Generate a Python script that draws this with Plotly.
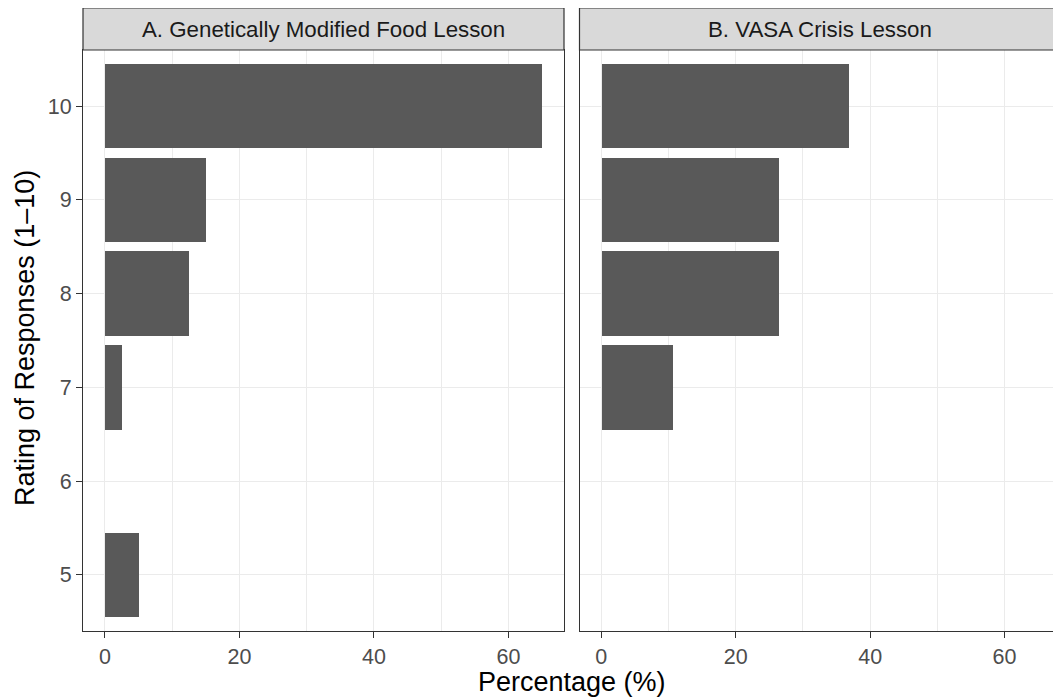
import plotly.graph_objects as go

ratings = [10, 9, 8, 7, 6, 5]
gm_food_pct = [65.0, 15.0, 12.5, 2.5, 0.0, 5.0]
vasa_pct = [36.84, 26.32, 26.32, 10.53, 0.0, 0.0]
panel_titles = ["A. Genetically Modified Food Lesson", "B. VASA Crisis Lesson"]
x_ticks = [0, 20, 40, 60]
x_title = "Percentage (%)"
y_title = "Rating of Responses (1\u201310)"

OFF = 8  # page body margin
W, H = 1061 - OFF, 699 - OFF
FONT = "Liberation Sans, Arial, Helvetica, sans-serif"
BAR = "#595959"
DARK = "#333333"
GRID = "#EBEBEB"
TICKC = "#4D4D4D"

def px_x(v):
    return (v - OFF) / W

def px_y(v):
    return (H - (v - OFF)) / H

dom1 = [px_x(83), px_x(564)]
dom2 = [px_x(579.5), px_x(1060)]
ydom = [px_y(631), px_y(50)]

fig = go.Figure()
for i, vals in enumerate([gm_food_pct, vasa_pct]):
    fig.add_trace(go.Bar(
        x=vals, y=ratings, orientation="h", width=0.9,
        marker=dict(color=BAR, line=dict(width=0)),
        xaxis="x" if i == 0 else "x2", yaxis="y" if i == 0 else "y2",
        showlegend=False, hoverinfo="x+y"))

xcommon = dict(range=[-3.25, 68.25], tickvals=x_ticks, ticktext=[str(t) for t in x_ticks],
               showgrid=True, gridcolor=GRID, gridwidth=1.4,
               minor=dict(dtick=10, tick0=0, showgrid=True, gridcolor=GRID, gridwidth=0.8, ticks=""),
               zeroline=False, showline=True, mirror=True, linecolor=DARK, linewidth=1.2,
               ticks="outside", ticklen=6, tickwidth=1.2, tickcolor=DARK,
               tickfont=dict(family=FONT, size=21.5, color=TICKC), fixedrange=True)
ycommon = dict(range=[4.4, 10.6], tickvals=ratings, showgrid=True, gridcolor=GRID, gridwidth=1.4,
               zeroline=False, showline=True, mirror=True, linecolor=DARK, linewidth=1.2,
               tickfont=dict(family=FONT, size=21.5, color=TICKC), fixedrange=True, domain=ydom)

fig.update_layout(
    width=W, height=H, margin=dict(l=0, r=0, t=0, b=0),
    paper_bgcolor="white", plot_bgcolor="white", bargap=0,
    xaxis=dict(domain=dom1, anchor="y", **xcommon),
    xaxis2=dict(domain=dom2, anchor="y2", **xcommon),
    yaxis=dict(anchor="x", ticks="outside", ticklen=6, tickwidth=1.2, tickcolor=DARK, **ycommon),
    yaxis2=dict(anchor="x2", ticks="", showticklabels=False, **ycommon),
)

strip_y0, strip_y1 = px_y(50), px_y(8)
for dom, title in zip([dom1, dom2], panel_titles):
    fig.add_shape(type="rect", xref="paper", yref="paper", x0=dom[0], x1=dom[1],
                  y0=strip_y0, y1=strip_y1, fillcolor="#D9D9D9",
                  line=dict(color=DARK, width=1.2), layer="above")
    fig.add_annotation(text=title, xref="paper", yref="paper", x=(dom[0] + dom[1]) / 2,
                       y=(strip_y0 + strip_y1) / 2, showarrow=False, xanchor="center", yanchor="middle",
                       font=dict(family=FONT, size=22.3, color="#1A1A1A"))

fig.add_annotation(text=x_title, xref="paper", yref="paper", x=px_x(571.5), y=px_y(682),
                   showarrow=False, xanchor="center", yanchor="middle",
                   font=dict(family=FONT, size=27, color="black"))
fig.add_annotation(text=y_title, xref="paper", yref="paper", x=px_x(25), y=px_y(338),
                   showarrow=False, xanchor="center", yanchor="middle", textangle=-90,
                   font=dict(family=FONT, size=27, color="black"))

fig.write_html("out.html")
